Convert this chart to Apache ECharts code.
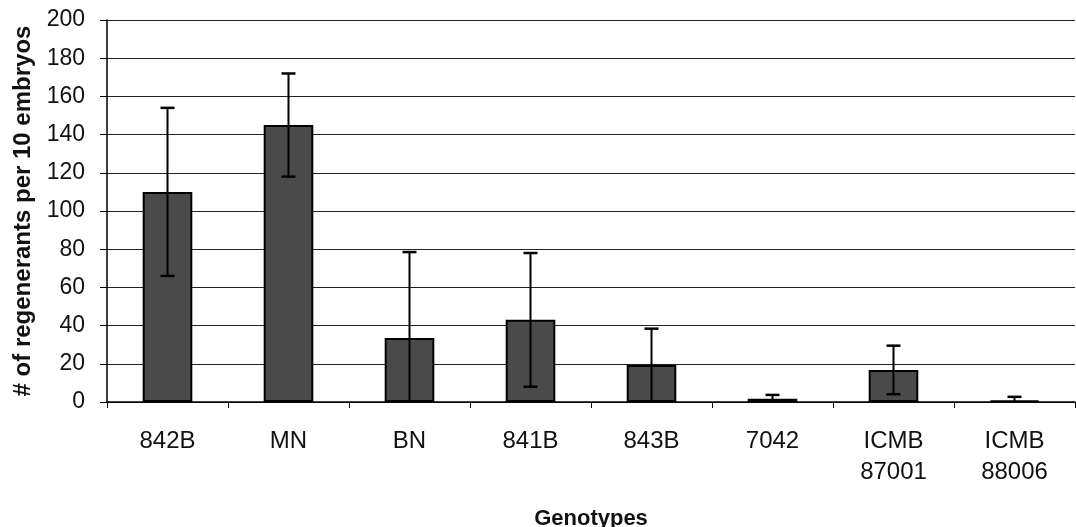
<!DOCTYPE html>
<html><head><meta charset="utf-8">
<script src="https://cdn.jsdelivr.net/npm/echarts@6/dist/echarts.min.js"></script>
<style>html,body{margin:0;padding:0;background:#fff}#c{width:1076px;height:527px}</style>
</head><body><div id="c"></div>
<script>
var categories = ['842B', 'MN', 'BN', '841B', '843B', '7042', 'ICMB\n87001', 'ICMB\n88006'];
var means = [110, 145, 33.5, 43, 19.4, 1.7, 16.8, 0.7];
var errors = [44, 27, 45, 35, 19, 2, 12.7, 2];
var yTicks = [0, 20, 40, 60, 80, 100, 120, 140, 160, 180, 200];

var chart = echarts.init(document.getElementById('c'));
var errData = means.map(function (m, i) { return [i, m, errors[i]]; });
var FONT = 'Liberation Sans, Arial';
chart.setOption({
  animation: false,
  grid: { left: 107, right: 1, top: 20, bottom: 125, containLabel: false, outerBoundsMode: 'none' },
  xAxis: {
    type: 'category', data: categories,
    axisLine: { lineStyle: { color: '#000', width: 1.5 } },
    axisTick: { show: true, length: 6, lineStyle: { color: '#000' } },
    axisLabel: { color: '#111', fontFamily: FONT, fontSize: 24, margin: 24, lineHeight: 31 },
    name: 'Genotypes', nameLocation: 'middle', nameGap: 106,
    nameTextStyle: { color: '#111', fontFamily: FONT, fontSize: 22, fontWeight: 'bold' }
  },
  yAxis: {
    type: 'value', min: yTicks[0], max: yTicks[yTicks.length - 1], interval: 20,
    axisLine: { show: true, lineStyle: { color: '#000', width: 1.5 } },
    axisTick: { show: true, length: 7, lineStyle: { color: '#000' } },
    axisLabel: { color: '#111', fontFamily: FONT, fontSize: 23, margin: 22 },
    splitLine: { show: true, lineStyle: { color: '#222', width: 1.2 } },
    name: '# of regenerants per 10 embryos', nameLocation: 'middle', nameGap: 70,
    nameTextStyle: { color: '#111', fontFamily: FONT, fontSize: 24, fontWeight: 'bold' }
  },
  series: [
    {
      type: 'bar', data: means, barWidth: '41%',
      itemStyle: { color: '#4a4a4a', borderColor: '#000', borderWidth: 2 }
    },
    {
      type: 'custom', data: errData, z: 10,
      renderItem: function (params, api) {
        var i = api.value(0), m = api.value(1), e = api.value(2);
        var hi = m + e, lo = Math.max(0, m - e);
        var pHi = api.coord([i, hi]);
        var pLo = api.coord([i, lo]);
        var x = pHi[0], hw = 7;
        var children = [
          { type: 'line', shape: { x1: x, y1: pHi[1], x2: x, y2: pLo[1] }, style: { stroke: '#000', lineWidth: 2 } },
          { type: 'line', shape: { x1: x - hw, y1: pHi[1], x2: x + hw, y2: pHi[1] }, style: { stroke: '#000', lineWidth: 2.5 } }
        ];
        if (m - e > 0) {
          children.push({ type: 'line', shape: { x1: x - hw, y1: pLo[1], x2: x + hw, y2: pLo[1] }, style: { stroke: '#000', lineWidth: 2.5 } });
        }
        return { type: 'group', children: children };
      }
    }
  ]
});
</script></body></html>
